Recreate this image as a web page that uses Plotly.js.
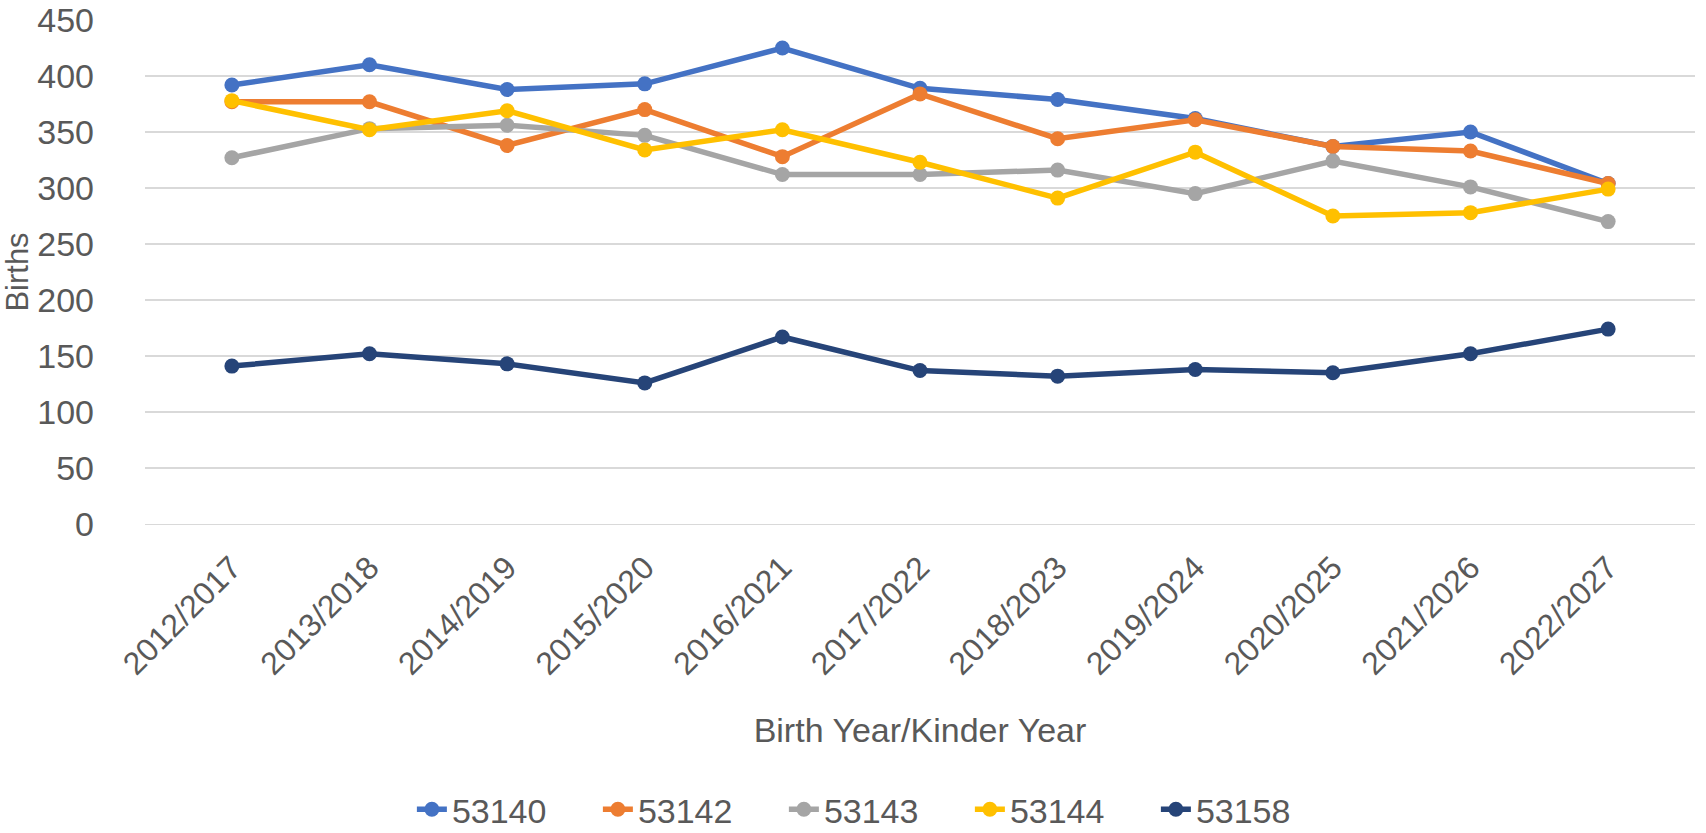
<!DOCTYPE html>
<html>
<head>
<meta charset="utf-8">
<script src="https://cdn.plot.ly/plotly-3.0.1.min.js"></script>
<style>html,body{margin:0;padding:0;background:#fff;}#chart{width:1706px;height:833px;}</style>
</head>
<body>
<div id="chart"></div>
<script>
const categories = ["2012/2017","2013/2018","2014/2019","2015/2020","2016/2021","2017/2022","2018/2023","2019/2024","2020/2025","2021/2026","2022/2027"];
const s53140 = [392, 410, 388, 393, 425, 389, 379, 362, 337, 350, 304];
const s53142 = [377, 377, 338, 370, 328, 384, 344, 361, 337, 333, 304];
const s53143 = [327, 353, 356, 347, 312, 312, 316, 295, 324, 301, 270];
const s53144 = [378, 352, 369, 334, 352, 323, 291, 332, 275, 278, 299];
const s53158 = [141, 152, 143, 126, 167, 137, 132, 138, 135, 152, 174];
const seriesNames = ["53140","53142","53143","53144","53158"];
const seriesColors = ["#4472C4","#ED7D31","#A5A5A5","#FFC000","#264478"];
const seriesValues = [s53140, s53142, s53143, s53144, s53158];

const font = "Liberation Sans, Arial, sans-serif";
const traces = seriesValues.map((vals, i) => ({
  type: "scatter",
  mode: "lines+markers",
  name: seriesNames[i],
  x: categories,
  y: vals,
  line: {color: seriesColors[i], width: 5.5},
  marker: {color: seriesColors[i], size: 15}
}));

const layout = {
  width: 1706, height: 833,
  margin: {l: 145, r: 11, t: 20, b: 309},
  paper_bgcolor: "#fff", plot_bgcolor: "#fff",
  font: {family: font, color: "#595959", size: 34},
  showlegend: true,
  legend: {
    orientation: "h", xref: "container", yref: "container",
    x: 0.514, xanchor: "center", y: 0.028, yanchor: "middle",
    font: {family: font, size: 34, color: "#595959"},
    entrywidth: 141, entrywidthmode: "pixels", itemclick: false
  },
  xaxis: {
    type: "category",
    automargin: false,
    tickangle: -45,
    tickfont: {family: font, size: 32, color: "#595959"},
    showgrid: false, zeroline: false,
    showline: true, linecolor: "#D9D9D9", linewidth: 1,
    ticks: "", ticklabelstandoff: 11,
    title: {text: "Birth Year/Kinder Year", font: {family: font, size: 34, color: "#595959"}, standoff: 37},
    fixedrange: true
  },
  yaxis: {
    automargin: false,
    range: [0, 450],
    dtick: 50, tick0: 0,
    tickfont: {family: font, size: 34, color: "#595959"},
    ticklabeloverflow: "allow",
    showgrid: true, gridcolor: "#D9D9D9", gridwidth: 1.3,
    zeroline: false, showline: false, ticks: "",
    ticklabelstandoff: 50,
    title: {text: "Births", font: {family: font, size: 31, color: "#595959"}, standoff: 6},
    fixedrange: true
  }
};
Plotly.newPlot("chart", traces, layout, {displayModeBar: false, staticPlot: true});
</script>
</body>
</html>
